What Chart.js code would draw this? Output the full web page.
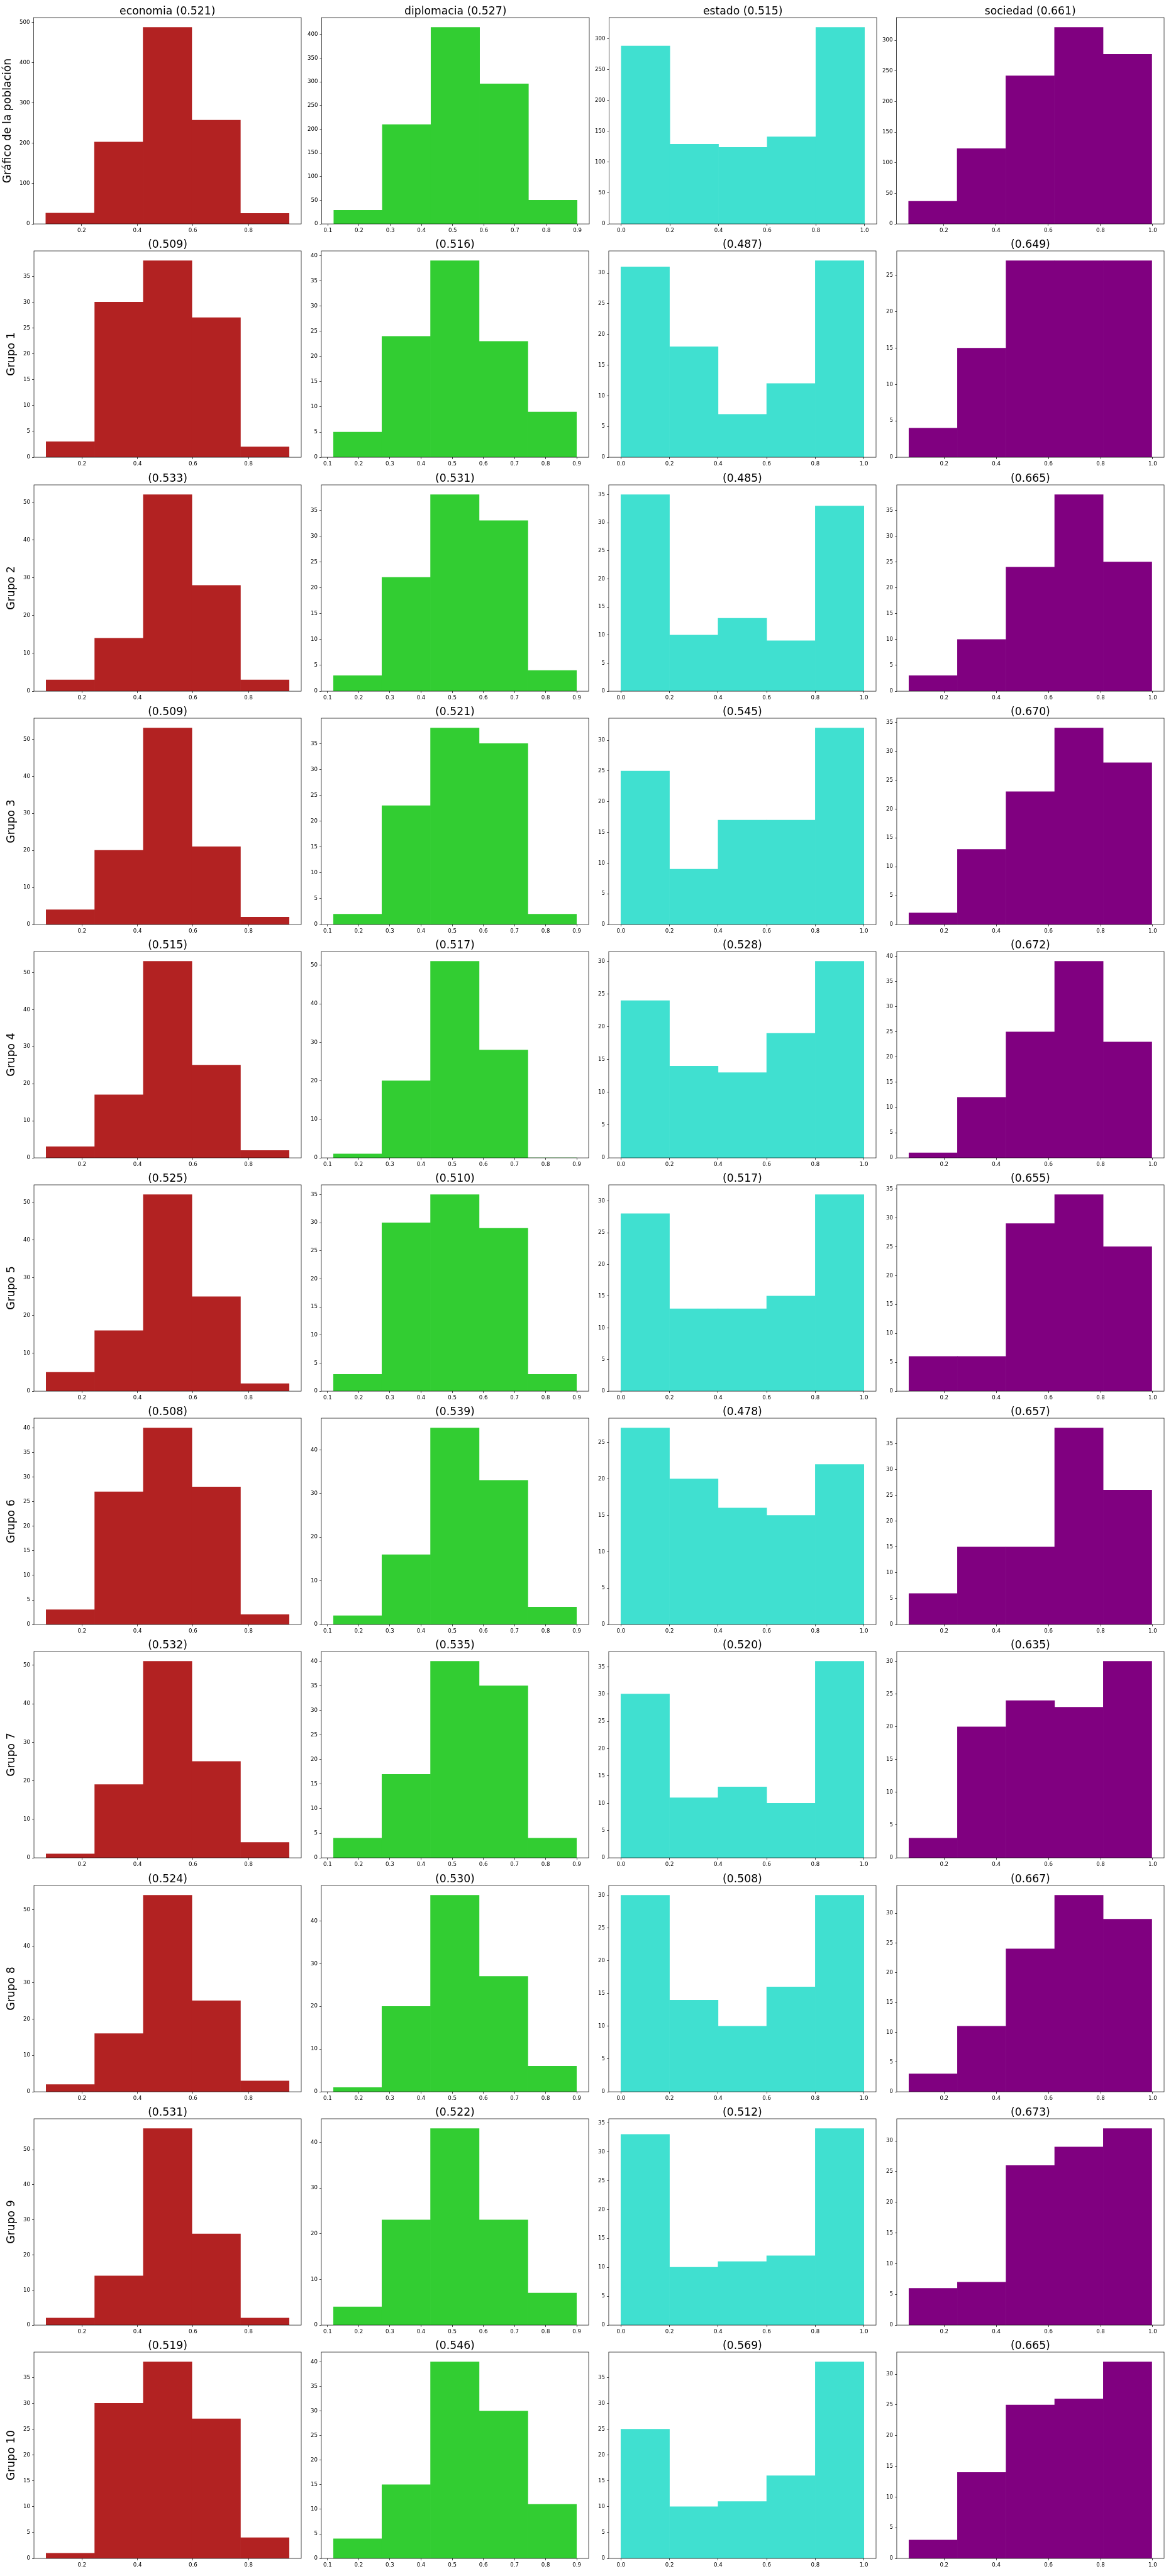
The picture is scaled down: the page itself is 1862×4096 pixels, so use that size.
<!DOCTYPE html>
<html>
<head>
<meta charset="utf-8">
<script src="https://cdn.jsdelivr.net/npm/chart.js@4.4.1/dist/chart.umd.min.js"></script>
<style>
  html, body { margin: 0; padding: 0; background: #ffffff; }
  #fig { position: relative; width: 1862px; height: 4096px; overflow: hidden; background: #ffffff; }
  #fig canvas { position: absolute; left: 0; top: 0; }
</style>
</head>
<body>
<div id="fig"></div>
<script>
// ---------------- DATA ----------------
const categories = ["economia", "diplomacia", "estado", "sociedad"];
const rowLabels = ["Gráfico de la población", "Grupo 1", "Grupo 2", "Grupo 3", "Grupo 4",
                   "Grupo 5", "Grupo 6", "Grupo 7", "Grupo 8", "Grupo 9", "Grupo 10"];

// histogram bin edges (5 bins per column)
const economiaBins   = [0.071, 0.246, 0.421, 0.596, 0.771, 0.946];
const diplomaciaBins = [0.119, 0.275, 0.430, 0.587, 0.743, 0.899];
const estadoBins     = [0.0, 0.2, 0.4, 0.6, 0.8, 1.0];
const sociedadBins   = [0.065, 0.251, 0.437, 0.624, 0.810, 0.997];

// x tick labels per column
const economiaXTicks   = [0.2, 0.4, 0.6, 0.8];
const diplomaciaXTicks = [0.1, 0.2, 0.3, 0.4, 0.5, 0.6, 0.7, 0.8, 0.9];
const estadoXTicks     = [0.0, 0.2, 0.4, 0.6, 0.8, 1.0];
const sociedadXTicks   = [0.2, 0.4, 0.6, 0.8, 1.0];

// counts per row (población, Grupo 1..10)
const economiaCounts = [
  [27, 203, 487, 257, 26],
  [3, 30, 38, 27, 2],
  [3, 14, 52, 28, 3],
  [4, 20, 53, 21, 2],
  [3, 17, 53, 25, 2],
  [5, 16, 52, 25, 2],
  [3, 27, 40, 28, 2],
  [1, 19, 51, 25, 4],
  [2, 16, 54, 25, 3],
  [2, 14, 56, 26, 2],
  [1, 30, 38, 27, 4]
];
const diplomaciaCounts = [
  [29, 210, 415, 296, 50],
  [5, 24, 39, 23, 9],
  [3, 22, 38, 33, 4],
  [2, 23, 38, 35, 2],
  [1, 20, 51, 28, 0],
  [3, 30, 35, 29, 3],
  [2, 16, 45, 33, 4],
  [4, 17, 40, 35, 4],
  [1, 20, 46, 27, 6],
  [4, 23, 43, 23, 7],
  [4, 15, 40, 30, 11]
];
const estadoCounts = [
  [288, 129, 124, 141, 318],
  [31, 18, 7, 12, 32],
  [35, 10, 13, 9, 33],
  [25, 9, 17, 17, 32],
  [24, 14, 13, 19, 30],
  [28, 13, 13, 15, 31],
  [27, 20, 16, 15, 22],
  [30, 11, 13, 10, 36],
  [30, 14, 10, 16, 30],
  [33, 10, 11, 12, 34],
  [25, 10, 11, 16, 38]
];
const sociedadCounts = [
  [37, 123, 242, 321, 277],
  [4, 15, 27, 27, 27],
  [3, 10, 24, 38, 25],
  [2, 13, 23, 34, 28],
  [1, 12, 25, 39, 23],
  [6, 6, 29, 34, 25],
  [6, 15, 15, 38, 26],
  [3, 20, 24, 23, 30],
  [3, 11, 24, 33, 29],
  [6, 7, 26, 29, 32],
  [3, 14, 25, 26, 32]
];

// means shown in subplot titles
const economiaMeans   = [0.521, 0.509, 0.533, 0.509, 0.515, 0.525, 0.508, 0.532, 0.524, 0.531, 0.519];
const diplomaciaMeans = [0.527, 0.516, 0.531, 0.521, 0.517, 0.510, 0.539, 0.535, 0.530, 0.522, 0.546];
const estadoMeans     = [0.515, 0.487, 0.485, 0.545, 0.528, 0.517, 0.478, 0.520, 0.508, 0.512, 0.569];
const sociedadMeans   = [0.661, 0.649, 0.665, 0.670, 0.672, 0.655, 0.657, 0.635, 0.667, 0.673, 0.665];

// y tick step per subplot
const economiaYStep   = [100, 5, 10, 10, 10, 10, 5, 10, 10, 10, 5];
const diplomaciaYStep = [50, 5, 5, 5, 10, 5, 10, 5, 10, 10, 5];
const estadoYStep     = [50, 5, 5, 5, 5, 5, 5, 5, 5, 5, 5];
const sociedadYStep   = [50, 5, 5, 5, 5, 5, 5, 5, 5, 5, 5];

// ---------------- STYLE / LAYOUT ----------------
const colors = ["#b22222", "#32cd32", "#40e0d0", "#800080"];
const S = 0.62;
const PLOT_LEFT0 = 86.5 * S, COL_PITCH = 737.7 * S, PLOT_W = 686 * S;
const PLOT_TOP0 = 45.5 * S, ROW_PITCH = 598.65 * S, PLOT_H = 529 * S;
const FAMILY = "'DejaVu Sans', 'Liberation Sans', sans-serif";
const TITLE_SIZE = 27.78 * S;
const TICK_SIZE = 13.89 * S;
const LABEL_SIZE = 27.78 * S;

const binsByCol   = [economiaBins, diplomaciaBins, estadoBins, sociedadBins];
const xTicksByCol = [economiaXTicks, diplomaciaXTicks, estadoXTicks, sociedadXTicks];
const countsByCol = [economiaCounts, diplomaciaCounts, estadoCounts, sociedadCounts];
const meansByCol  = [economiaMeans, diplomaciaMeans, estadoMeans, sociedadMeans];
const stepsByCol  = [economiaYStep, diplomaciaYStep, estadoYStep, sociedadYStep];

Chart.defaults.animation = false;
Chart.defaults.color = '#000';
Chart.defaults.font.family = FAMILY;

const titlePlugin = {
  id: 'subplotTitle',
  afterDraw(chart, args, opts) {
    const { ctx, chartArea: a } = chart;
    ctx.save();
    ctx.font = opts.size + 'px ' + FAMILY;
    ctx.fillStyle = '#000';
    ctx.textAlign = 'center';
    ctx.textBaseline = 'alphabetic';
    ctx.fillText(opts.text, (a.left + a.right) / 2, a.top - opts.pad);
    ctx.restore();
  }
};
const framePlugin = {
  id: 'frame',
  afterDatasetsDraw(chart) {
    const { ctx, chartArea: a } = chart;
    ctx.save();
    ctx.strokeStyle = '#000';
    ctx.lineWidth = 0.7;
    ctx.strokeRect(a.left, a.top, a.right - a.left, a.bottom - a.top);
    ctx.restore();
  }
};

function buildConfig(r, c) {
  const bins = binsByCol[c];
  const counts = countsByCol[c][r];
  const mean = meansByCol[c][r];
  const step = stepsByCol[c][r];
  const xTicks = xTicksByCol[c];
  const span = bins[bins.length - 1] - bins[0];
  const xMin = bins[0] - 0.05 * span, xMax = bins[bins.length - 1] + 0.05 * span;
  const yMax = Math.max(...counts) * 1.05;
  const yTicks = [];
  for (let k = 0; k * step <= yMax + 1e-9; k++) yTicks.push(k * step);
  const data = counts.map((n, i) => ({ x: (bins[i] + bins[i + 1]) / 2, y: n }));
  const title = (r === 0 ? categories[c] + ' ' : '') + '(' + mean.toFixed(3) + ')';
  const tickFont = { family: FAMILY, size: TICK_SIZE };
  return {
    type: 'bar',
    data: {
      datasets: [{
        data: data,
        backgroundColor: colors[c],
        borderWidth: 0,
        barThickness: (ctx) => {
          const sx = ctx.chart.scales.x;
          return Math.abs(sx.getPixelForValue(bins[1]) - sx.getPixelForValue(bins[0]));
        }
      }]
    },
    options: {
      responsive: false,
      maintainAspectRatio: false,
      animation: false,
      events: [],
      layout: { padding: { top: 26, right: 4, bottom: 2, left: 0 } },
      plugins: {
        legend: { display: false },
        tooltip: { enabled: false },
        title: { display: false },
        subplotTitle: { text: title, size: TITLE_SIZE, pad: 8.33 * S }
      },
      scales: {
        x: {
          type: 'linear',
          min: xMin, max: xMax,
          offset: false,
          afterBuildTicks: (s) => { s.ticks = xTicks.map(v => ({ value: v })); },
          ticks: {
            font: tickFont, color: '#000', padding: 2.3,
            autoSkip: false, maxRotation: 0, minRotation: 0,
            callback: (v) => Number(v).toFixed(1)
          },
          grid: { display: true, offset: false, drawOnChartArea: false, drawTicks: true,
                  tickLength: 3, tickColor: '#000', tickWidth: 0.7 },
          border: { display: false }
        },
        y: {
          type: 'linear',
          min: 0, max: yMax,
          afterBuildTicks: (s) => { s.ticks = yTicks.map(v => ({ value: v })); },
          ticks: {
            font: tickFont, color: '#000', padding: 3, autoSkip: false,
            callback: (v) => String(v)
          },
          grid: { display: true, drawOnChartArea: false, drawTicks: true,
                  tickLength: 3, tickColor: '#000', tickWidth: 0.7 },
          border: { display: false },
          title: c === 0 ? {
            display: true, text: rowLabels[r], color: '#000',
            font: { family: FAMILY, size: LABEL_SIZE, lineHeight: 1.2 },
            padding: { top: 2, bottom: 5.4 }
          } : { display: false }
        }
      }
    },
    plugins: [titlePlugin, framePlugin]
  };
}

const fig = document.getElementById('fig');
function place(r, c) {
  const targetL = PLOT_LEFT0 + c * COL_PITCH;
  const targetT = PLOT_TOP0 + r * ROW_PITCH;
  let W = 500, H = 380, chart = null, canvas = null;
  for (let pass = 0; pass < 4; pass++) {
    canvas = document.createElement('canvas');
    canvas.width = W; canvas.height = H;
    canvas.style.width = W + 'px'; canvas.style.height = H + 'px';
    fig.appendChild(canvas);
    chart = new Chart(canvas, buildConfig(r, c));
    const a = chart.chartArea;
    const dW = PLOT_W - (a.right - a.left);
    const dH = PLOT_H - (a.bottom - a.top);
    if ((Math.abs(dW) < 0.6 && Math.abs(dH) < 0.6) || pass === 3) break;
    chart.destroy();
    canvas.remove();
    W = Math.round(W + dW); H = Math.round(H + dH);
  }
  const a = chart.chartArea;
  canvas.style.left = Math.round(targetL - a.left) + 'px';
  canvas.style.top = Math.round(targetT - a.top) + 'px';
}

for (let r = 0; r < rowLabels.length; r++) {
  for (let c = 0; c < categories.length; c++) {
    place(r, c);
  }
}
</script>
</body>
</html>
